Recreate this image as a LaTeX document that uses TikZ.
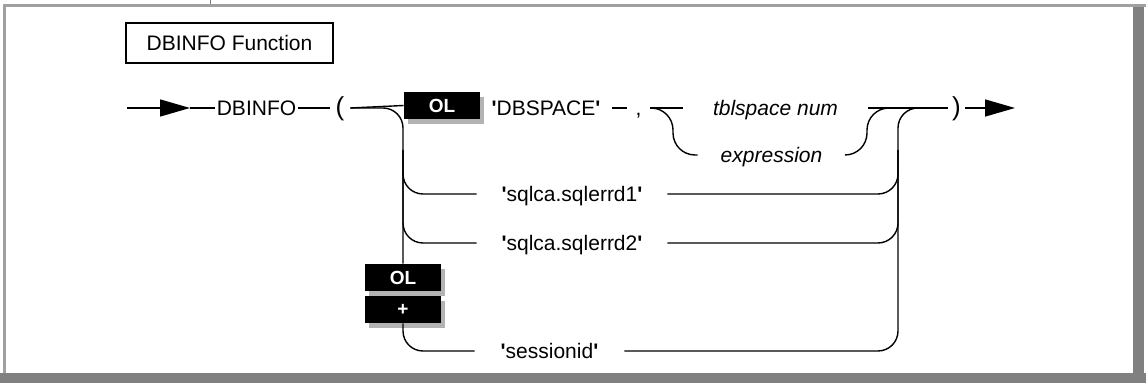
\documentclass[tikz,border=0pt]{standalone}
\usepackage{fontspec}
\setmainfont{Liberation Sans}[Ligatures=TeXOff]
\usetikzlibrary{arrows.meta}
\definecolor{framelight}{HTML}{A0A0A0}
\definecolor{framedark}{HTML}{808080}
\definecolor{boxshadow}{HTML}{B3B3B3}
\newcommand{\qmark}{\textbf{'}}
\begin{document}
\begin{tikzpicture}[x=0.5pt,y=-0.5pt,
  conn/.style={line width=0.7pt},
  word/.style={inner sep=0pt,text height=7.5pt,text depth=0pt,font=\fontsize{10.5}{12}\selectfont},
  itword/.style={word,font=\fontsize{10.5}{12}\selectfont\itshape},
  paren/.style={word,font=\fontsize{13}{14}\selectfont},
  olbox/.style={fill=black,text=white,inner sep=0pt,minimum width=38pt,minimum height=13.5pt,
    font=\fontsize{9.5}{11}\selectfont\bfseries},
  shadowbox/.style={color=boxshadow},
  tip/.style={-{Triangle[length=15pt,width=8.5pt]}}
]
\useasboundingbox (0,0) rectangle (1146,383);
% frame
\fill[framelight] (3,4) rectangle (1146,7);
\fill[framelight] (3,4) rectangle (6,373);
\fill[framedark] (1133,7) rectangle (1144,383);
\fill[framedark] (0,373) rectangle (1146,383);
\draw[framedark,line width=0.5pt] (210,0) -- (210,4);

\node[draw,line width=1pt,minimum width=103.5pt,minimum height=20pt,inner sep=0pt,
  font=\fontsize{10.5}{12}\selectfont] (title) at (229.5,43) {DBINFO Function};

% coordinates
\coordinate (start) at (127,108);
\coordinate (t1) at (190,108);
\coordinate (endtip) at (1015,108);
\coordinate (L0) at (403,108);
\coordinate (Lm) at (403,150);
\coordinate (L1) at (403,194);
\coordinate (L2) at (403,243);
\coordinate (L3) at (403,351);
\coordinate (R0) at (898,108);
\coordinate (Rm) at (898,150);
\coordinate (R1) at (898,194);
\coordinate (R2) at (898,243);
\coordinate (R3) at (898,351);
\coordinate (lS) at (673,108);
\coordinate (rS) at (867,108);

% box shadows (offset 4px right, 5px down)
\fill[shadowbox] (408,97) rectangle (484,124);
\fill[shadowbox] (369,269) rectangle (445,296);
\fill[shadowbox] (369,301) rectangle (445,328);

% nodes
\node[word,minimum width=41.5pt] (dbinfo) at (256.5,108) {DBINFO};
\node[paren,minimum width=10pt] (lp) at (340,108) {(};
\node[olbox] (ol1) at (442,105.5) {OL};
\node[olbox] (ol2) at (403,277.5) {OL};
\node[olbox] (plus) at (403,309.5) {+};
\node[word,minimum width=66pt] (ds) at (546,108) {\qmark DBSPACE\qmark};
\node[word,minimum width=11.5pt] (cm) at (638.5,108) {,};
\node[itword,minimum width=92.5pt] (tb) at (775.5,108) {tblspace num};
\node[itword,minimum width=73.5pt] (ex) at (771.5,155) {expression};
\node[paren,minimum width=8.5pt] (rp) at (956.5,108) {)};
\node[word,minimum width=95pt] (s1) at (572,194) {\qmark sqlca.sqlerrd1\qmark};
\node[word,minimum width=95pt] (s2) at (572,243) {\qmark sqlca.sqlerrd2\qmark};
\node[word,minimum width=74.5pt] (s4) at (549.5,351) {\qmark sessionid\qmark};

% connectors
\draw[conn,tip] (start) -- (t1);
\draw[conn] (t1) -- (dbinfo.west);
\draw[conn] (dbinfo.east) -- (lp.west);
\draw[conn] (lp.east) -- (ol1.west);
\draw[conn,rounded corners=10pt] (lp.east) -- (L0) -- (ol2.north);
\draw[conn,rounded corners=10pt] (Lm) -- (L1) -- (s1.west);
\draw[conn,rounded corners=10pt] (Lm) -- (L2) -- (s2.west);
\draw[conn,rounded corners=10pt] (plus.south) -- (L3) -- (s4.west);

\draw[conn] (ds.east) -- (cm.west);
\draw[conn] (cm.east) -- (tb.west);
\draw[conn,rounded corners=11pt] (cm.east) -- (lS) -- (lS |- ex.west) -- (ex.west);
\draw[conn] (tb.east) -- (rp.west);
\draw[conn,rounded corners=11pt] (ex.east) -- (rS |- ex.east) -- (rS) -- (rp.west);
\draw[conn,tip] (rp.east) -- (endtip);

\draw[conn,rounded corners=10pt] (s1.east) -- (R1) -- (Rm);
\draw[conn,rounded corners=10pt] (s2.east) -- (R2) -- (Rm);
\draw[conn,rounded corners=10pt] (s4.east) -- (R3) -- (R0) -- (rp.west);
\end{tikzpicture}
\end{document}
